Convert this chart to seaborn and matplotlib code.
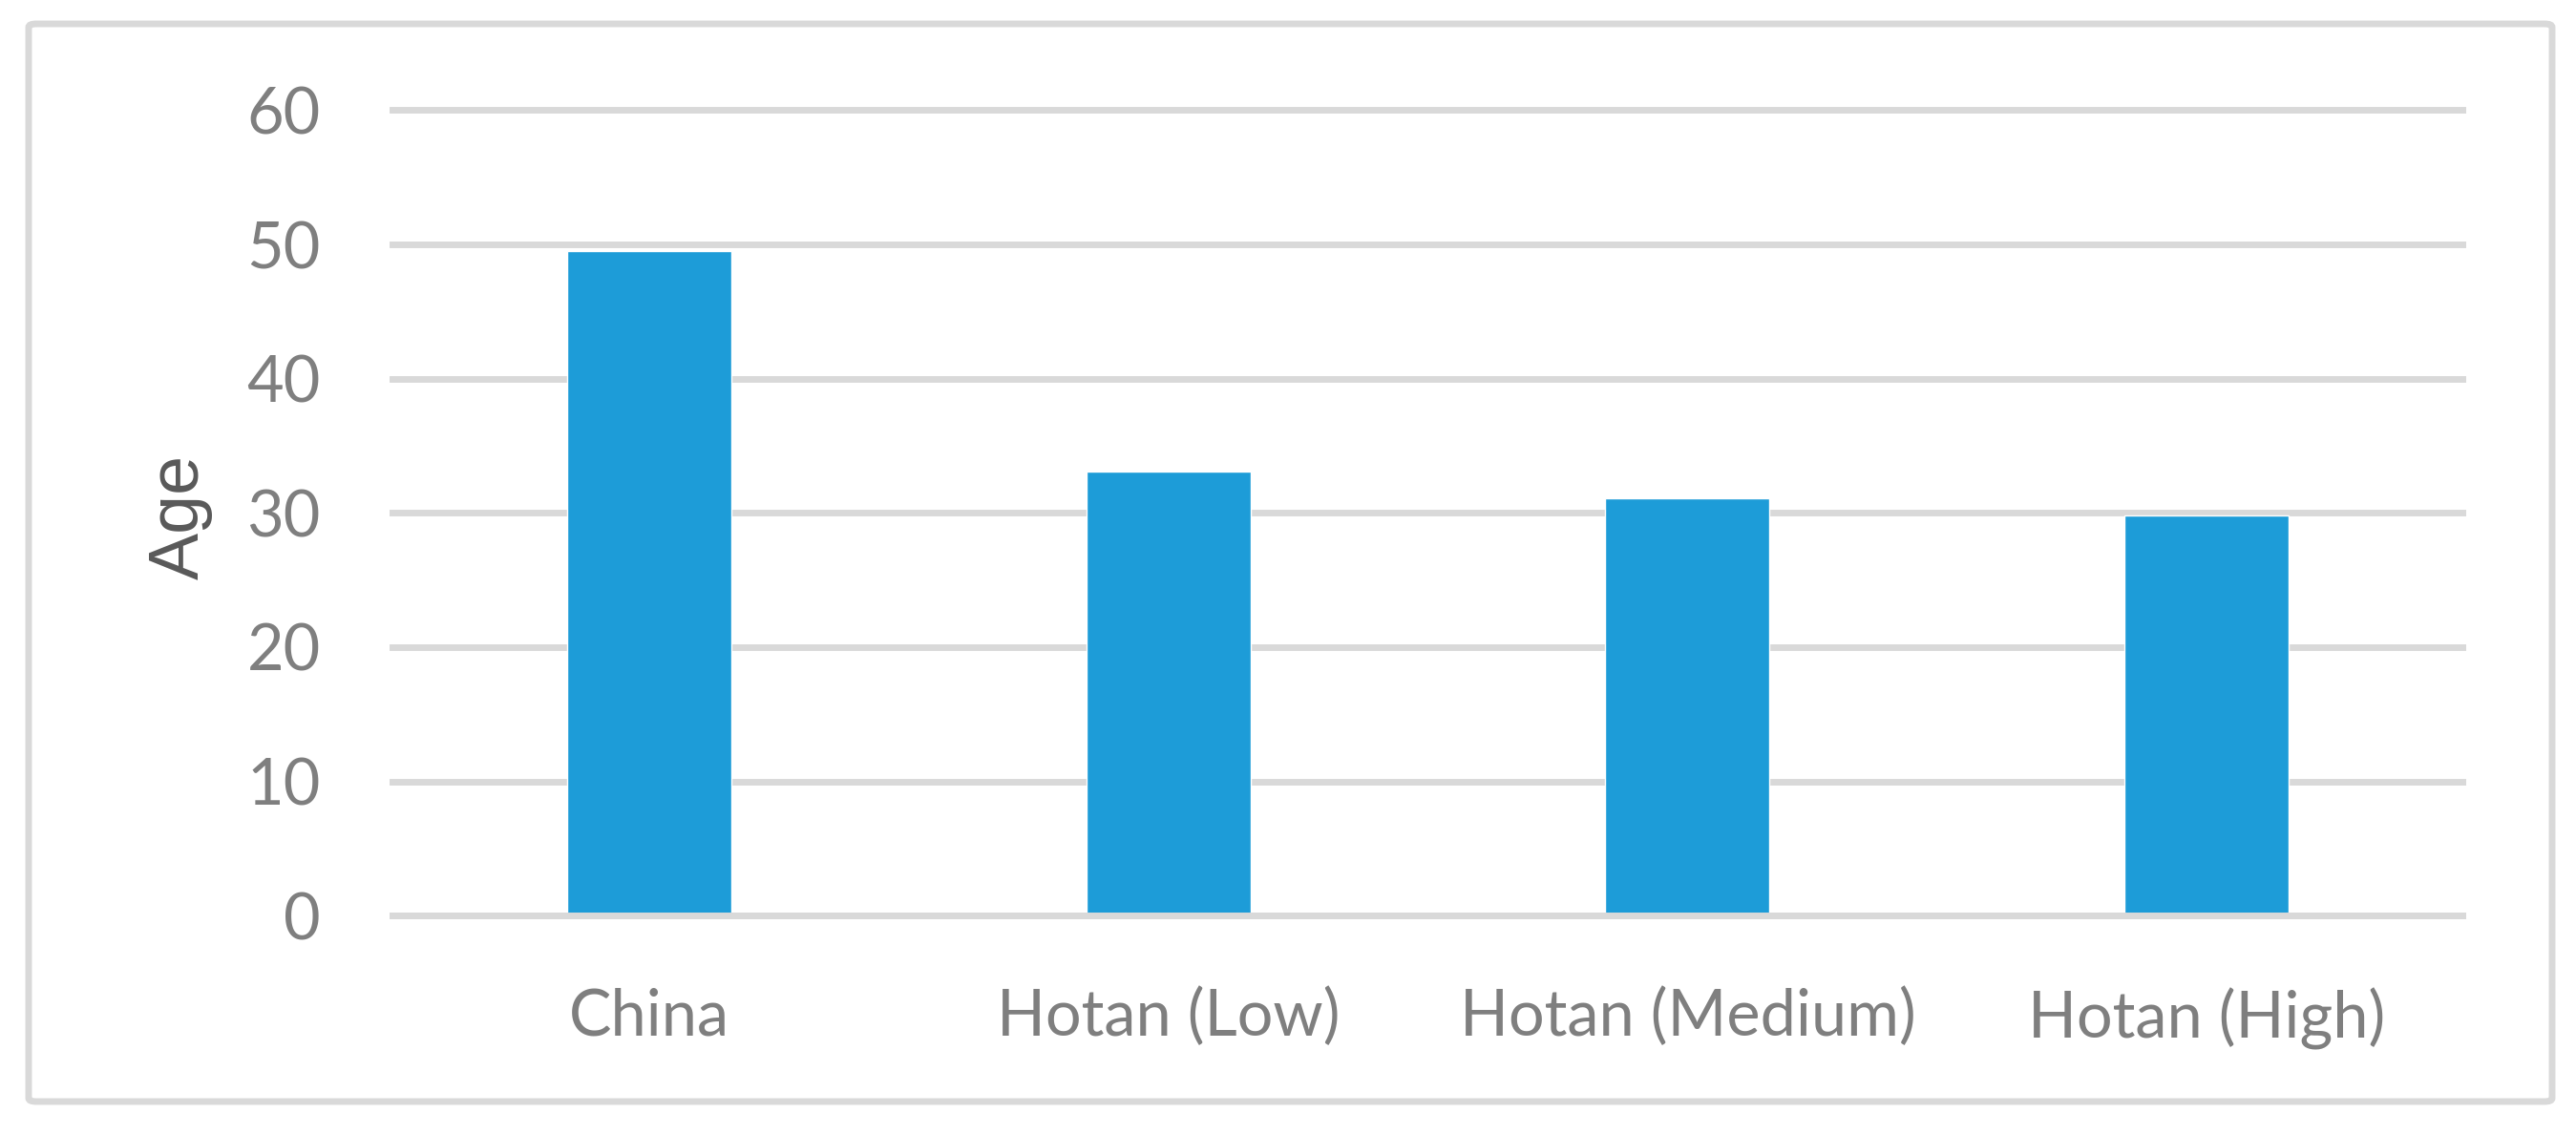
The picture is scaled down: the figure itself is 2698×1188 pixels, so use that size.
import matplotlib
matplotlib.use('Agg')
import matplotlib.pyplot as plt
from matplotlib.patches import FancyBboxPatch
import seaborn as sns
import pandas as pd

# data
regions = ['China', 'Hotan (Low)', 'Hotan (Medium)', 'Hotan (High)']
age = [49.5, 33.1, 31.1, 29.8]
yticks = [0, 10, 20, 30, 40, 50, 60]

df = pd.DataFrame({'region': regions, 'age': age})

sns.set_style('white')
plt.rcParams['font.family'] = ['Lato', 'DejaVu Sans']

fig = plt.figure(figsize=(26.98, 11.88), dpi=100)
ax = fig.add_axes([0.1512, 0.1866, 0.8062, 0.7222])

sns.barplot(data=df, x='region', y='age', color='#1d9cd8', width=0.316,
            saturation=1, ax=ax, zorder=3)

ax.set_xlim(-0.5, 3.5)
ax.set_ylim(-0.5, 60.5)
ax.set_yticks(yticks)
ax.yaxis.grid(True, color='#d9d9d9', linewidth=5.0)
ax.set_axisbelow(True)
ax.axhline(0, color='#d9d9d9', linewidth=5.0, zorder=4)
for s in ax.spines.values():
    s.set_visible(False)

ax.tick_params(axis='both', length=0, labelsize=48, labelcolor='#7f7f7f')
ax.tick_params(axis='y', pad=52)
ax.tick_params(axis='x', pad=49)
ax.set_xlabel('')
ax.set_ylabel('Age', fontsize=53, color='#595959', family=['Liberation Sans'],
              va='center')
ax.yaxis.set_label_coords(-0.1011, 0.4957)

# outer frame
frame = FancyBboxPatch((30 / 2698, 1 - 1154 / 1188), 2643 / 2698, 1129 / 1188,
                       boxstyle='round,pad=0,rounding_size=0.003',
                       transform=fig.transFigure, fill=False,
                       edgecolor='#d9d9d9', linewidth=5.0)
fig.patches.append(frame)

fig.savefig('out.png', dpi=100, facecolor='white')
